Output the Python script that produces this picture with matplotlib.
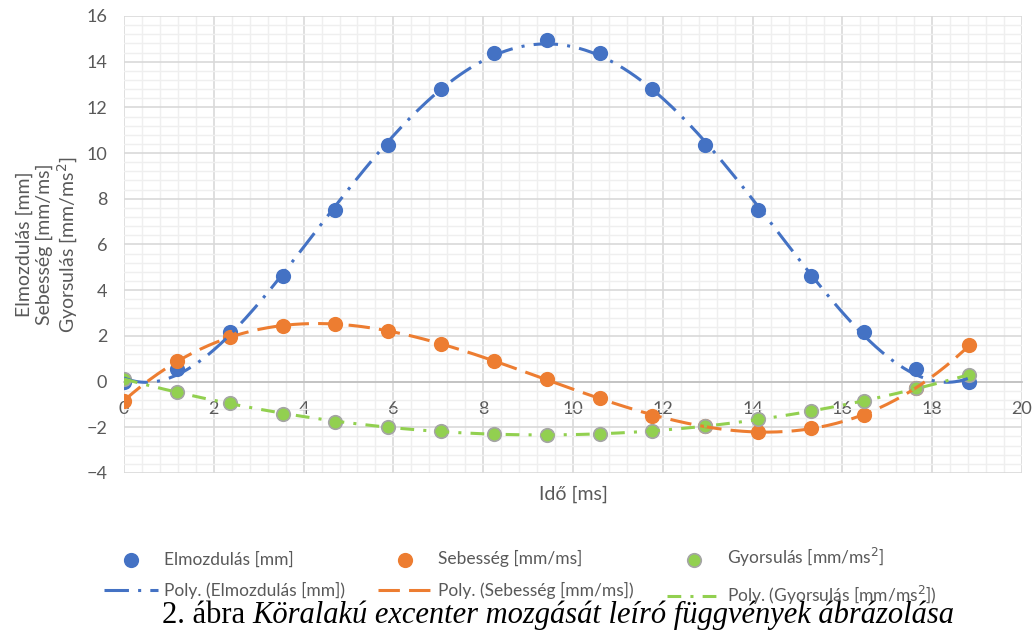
import numpy as np
import matplotlib
import matplotlib.pyplot as plt
from matplotlib.ticker import MultipleLocator

matplotlib.use('Agg')

# Data
ido = [0, 1.18, 2.35, 3.53, 4.71, 5.88, 7.06, 8.24, 9.41, 10.59, 11.76,
       12.94, 14.12, 15.29, 16.47, 17.65, 18.82]
elmozdulas = [0, 0.55, 2.15, 4.6, 7.5, 10.35, 12.8, 14.4, 14.95, 14.4, 12.8,
              10.35, 7.5, 4.6, 2.15, 0.55, 0]
sebesseg = [-0.85, 0.9, 1.95, 2.45, 2.5, 2.2, 1.65, 0.9, 0.1, -0.7, -1.5,
            -1.95, -2.2, -2.05, -1.45, -0.3, 1.6]
gyorsulas = [0.1, -0.45, -0.95, -1.4, -1.75, -2.0, -2.15, -2.3, -2.35, -2.3,
             -2.15, -1.95, -1.65, -1.3, -0.85, -0.3, 0.3]

names = ['Elmozdulás [mm]', 'Sebesség [mm/ms]', 'Gyorsulás [mm/ms$^2$]']
colors = ['#4472C4', '#ED7D31', '#92D050']
degrees = [4, 3, 4]
dashes = [(0, (8, 3, 1, 3)), (0, (7, 3)), (0, (4.5, 3, 1, 3))]

plt.rcParams['font.family'] = ['Lato', 'DejaVu Sans']
grey = '#595959'

fig = plt.figure(figsize=(10.36, 6.39), dpi=100)
ax = fig.add_axes([0.1197, 0.2598, 0.8668, 0.7152])

x = np.array(ido)
xs = np.linspace(x[0], x[-1], 300)
series = [elmozdulas, sebesseg, gyorsulas]

handles = []
for name, y, c, deg, ls in zip(names, series, colors, degrees, dashes):
    edge = '#A5A5A5' if c == '#92D050' else c
    sc = ax.scatter(x, y, s=95, color=c, edgecolors=edge, linewidths=1.2,
                    zorder=3, label=name)
    # polynomial trendline, like Excel's "Poly." trendline
    coef = np.polyfit(x, y, deg)
    ln, = ax.plot(xs, np.polyval(coef, xs), color=c, lw=2.2, linestyle=ls,
                  zorder=4, label='Poly. (' + name + ')')
    handles += [sc, ln]

ax.set_xlim(0, 20)
ax.set_ylim(-4, 16)
ax.xaxis.set_major_locator(MultipleLocator(2))
ax.xaxis.set_minor_locator(MultipleLocator(0.4))
ax.yaxis.set_major_locator(MultipleLocator(2))
ax.yaxis.set_minor_locator(MultipleLocator(0.4))
ax.grid(which='major', color='#D9D9D9', lw=1.2, zorder=0)
ax.grid(which='minor', color='#EFEFEF', lw=1.0, zorder=0)
ax.set_axisbelow(True)

for s in ['top', 'right', 'left']:
    ax.spines[s].set_visible(False)
ax.spines['bottom'].set_position(('data', 0))
ax.spines['bottom'].set_color('#BFBFBF')
ax.spines['bottom'].set_linewidth(1.2)
ax.tick_params(which='both', length=0, labelsize=13, colors=grey)
ax.tick_params(axis='x', pad=14)
ax.tick_params(axis='y', pad=12)

ax.set_xlabel('Idő [ms]', fontsize=14, color=grey)
ax.xaxis.set_label_coords(0.5, -0.027)
ax.set_ylabel('Elmozdulás [mm]\nSebesség [mm/ms]\nGyorsulás [mm/ms$^2$]',
              fontsize=14, color=grey, linespacing=1.15)
ax.yaxis.set_label_coords(-0.049, 0.5)

leg = fig.legend(handles=handles, ncol=3, loc='upper left',
                 bbox_to_anchor=(0.094, 0.156), frameon=False, fontsize=12.5,
                 handlelength=3.1, columnspacing=1.9, labelspacing=0.85,
                 handletextpad=0.35, scatterpoints=1, borderaxespad=0)
for t in leg.get_texts():
    t.set_color(grey)

# caption: upright figure number, italic title
r = fig.canvas.get_renderer()
t1 = fig.text(162 / 1036, 0.037, '2. ábra ', family='Liberation Serif',
              fontsize=22, ha='left', va='center')
bb = t1.get_window_extent(renderer=r)
fig.text(bb.x1 / 1036, 0.037,
         'Köralakú excenter mozgását leíró függvények ábrázolása',
         family='Liberation Serif', style='italic', fontsize=22,
         ha='left', va='center')

plt.savefig('out.png', dpi=100)
